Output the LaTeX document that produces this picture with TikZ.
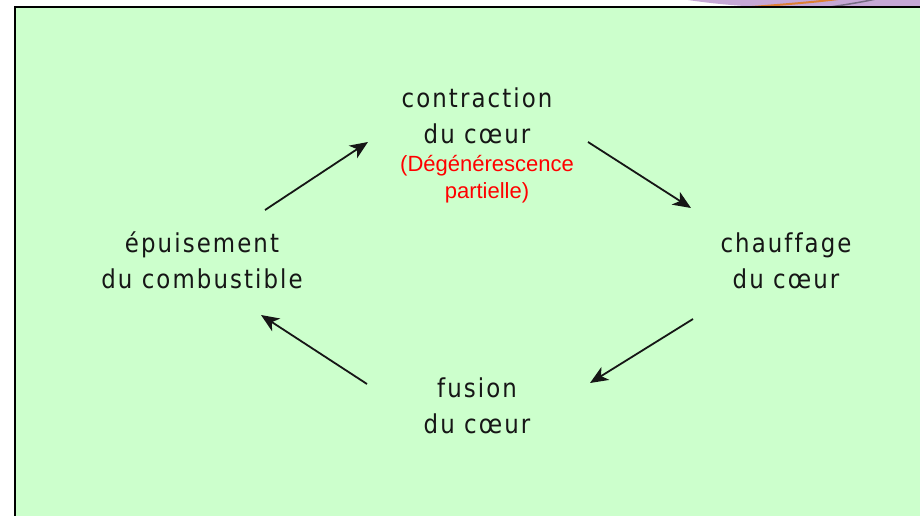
\documentclass[tikz,border=0pt]{standalone}
\usepackage{fontspec}
\setmainfont{Liberation Sans}
\newfontfamily\cyclefont{DejaVu Sans}[LetterSpace=8,FakeStretch=0.88,Ligatures=NoCommon]
\usetikzlibrary{arrows.meta}
\definecolor{panelgreen}{RGB}{204,255,204}
\definecolor{swoosh}{RGB}{198,168,214}
\definecolor{swooshorange}{RGB}{222,128,52}
\definecolor{swooshgray}{RGB}{118,108,132}
\definecolor{ink}{RGB}{22,22,22}

\begin{document}
\begin{tikzpicture}[x=1pt,y=-1pt,
  stage/.style={font=\cyclefont\fontsize{26}{36}\selectfont, text=ink,
    align=center, anchor=base, inner sep=0pt},
  note/.style={font=\fontsize{22}{27}\selectfont, text=red,
    align=center, anchor=base, inner sep=0pt},
  cyclearrow/.style={draw=ink, line width=1.8pt,
    -{Stealth[length=18pt,width=15pt,inset=5pt]}}]

\useasboundingbox (0,0) rectangle (920,516);
\clip (0,0) rectangle (920,516);
\fill[white] (0,0) rectangle (920,516);

% decorative band along the top edge
\fill[swoosh] (688,0) .. controls (715,4) and (740,6) .. (762,7)
  -- (920,7) -- (920,0) -- cycle;
\draw[swooshorange, line width=2pt] (752,7) .. controls (790,4) and (815,2) .. (838,-1);
\draw[swooshgray, line width=1.5pt] (830,7) .. controls (850,4) and (862,2) .. (876,-1);

% panel
\filldraw[fill=panelgreen, draw=black, line width=2.8pt] (15,7) rectangle (940,540);

% stages of the cycle (anchored on the baseline of the last line)
\node[stage] (contraction) at (477,143) {contraction\\du cœur};
\node[note]  (degen)       at (487,198) {(Dégénérescence\\partielle)};
\node[stage] (chauffage)   at (786,288) {chauffage\\du cœur};
\node[stage] (fusion)      at (477,433) {fusion\\du cœur};
\node[stage] (epuisement)  at (202,288) {épuisement\\du combustible};

% arrow end points
\coordinate (e2c-s) at (265,210);
\coordinate (e2c-e) at (368,142);
\coordinate (c2h-s) at (588,142);
\coordinate (c2h-e) at (691,208);
\coordinate (h2f-s) at (693,319);
\coordinate (h2f-e) at (590,383);
\coordinate (f2e-s) at (367,384);
\coordinate (f2e-e) at (261,315);

\draw[cyclearrow] (e2c-s) -- (e2c-e);
\draw[cyclearrow] (c2h-s) -- (c2h-e);
\draw[cyclearrow] (h2f-s) -- (h2f-e);
\draw[cyclearrow] (f2e-s) -- (f2e-e);
\end{tikzpicture}
\end{document}
